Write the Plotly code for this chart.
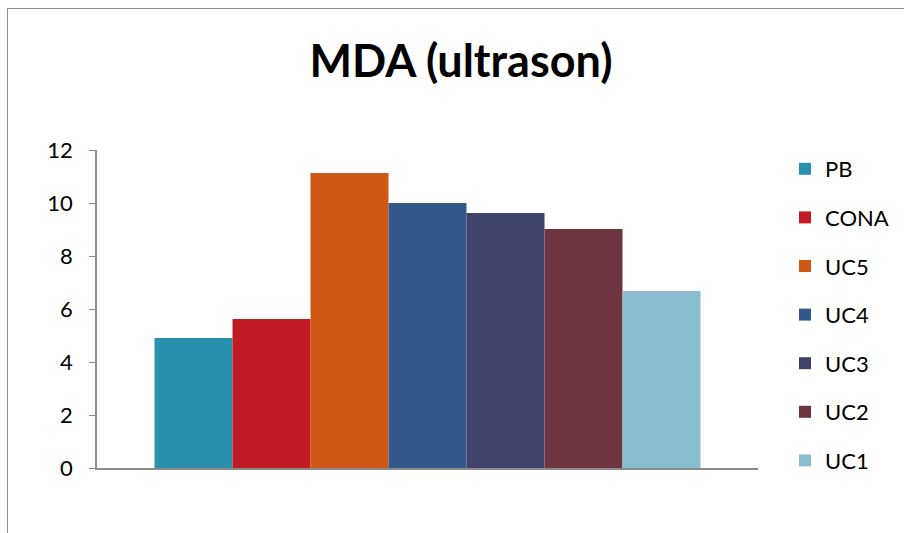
import plotly.graph_objects as go

# MDA levels measured after ultrasound treatment
series = ["PB", "CONA", "UC5", "UC4", "UC3", "UC2", "UC1"]
values = [4.91, 5.62, 11.13, 10.0, 9.62, 9.02, 6.68]
colors = ["#2990AD", "#C11B24", "#D05815", "#33598A", "#3F426B", "#6E3440", "#8ABDD0"]
category = [""]
y_ticks = [0, 2, 4, 6, 8, 10, 12]

W, H = 904, 533
ML, MR, MT, MB = 97, 146, 150, 65
PW, PH = W - ML - MR, H - MT - MB

FONT = "Lato"

fig = go.Figure()
for name, val, col in zip(series, values, colors):
    fig.add_trace(go.Bar(
        x=category, y=[val], name=name, legendgroup=name,
        marker=dict(color=col, line=dict(width=0)),
    ))


def px_x(p):
    return (p - ML) / PW


def px_y(p):
    return (H - MB - p) / PH


# outer chart-area frame
fig.add_shape(type="rect", xref="paper", yref="paper",
              x0=px_x(7.5), x1=px_x(912), y0=px_y(8.5), y1=px_y(545),
              line=dict(color="#8c8c8c", width=1), fillcolor="rgba(0,0,0,0)",
              layer="below")

fig.update_layout(
    width=W, height=H,
    margin=dict(l=ML, r=MR, t=MT, b=MB, pad=0, autoexpand=False),
    paper_bgcolor="white", plot_bgcolor="white",
    barmode="group", bargap=0.174, bargroupgap=0,
    font=dict(family=FONT, color="black", size=22),
    title=dict(text="<b>MDA (ultrason)</b>", x=px_x(461), xref="paper",
               xanchor="center", y=1 - 61 / H, yanchor="middle",
               font=dict(size=45, family=FONT, color="black")),
    showlegend=True,
    legend=dict(x=px_x(785), y=px_y(148), xanchor="left", yanchor="top",
                xref="paper", yref="paper", maxheight=533,
                font=dict(size=22, family=FONT, color="black"),
                tracegroupgap=17, itemwidth=30, bgcolor="rgba(0,0,0,0)"),
    xaxis=dict(showline=True, linecolor="#8c8c8c", linewidth=2,
               showticklabels=False, ticks="", showgrid=False, zeroline=False),
    yaxis=dict(range=[0, 12], tickvals=y_ticks, showline=True,
               linecolor="#8c8c8c", linewidth=1.5, ticks="outside",
               ticklen=6, tickcolor="#8c8c8c", showgrid=False, zeroline=False,
               tickfont=dict(size=22, family=FONT, color="black"),
               ticklabelstandoff=12),
)

fig.write_html("out.html")
